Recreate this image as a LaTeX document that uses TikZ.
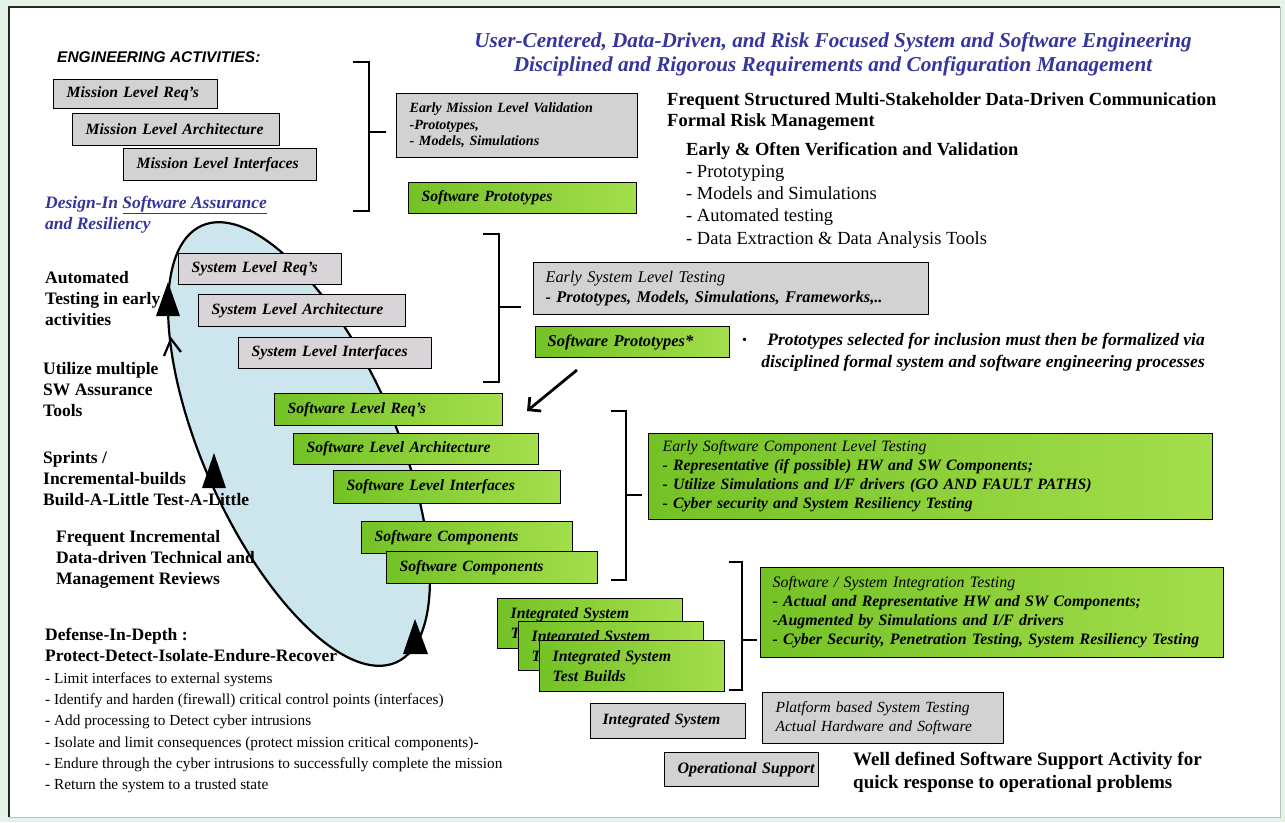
\documentclass[tikz,border=0pt]{standalone}
\usepackage{fontspec}
\setmainfont{Liberation Serif}
\newfontfamily\sansfam{Liberation Sans}
\usetikzlibrary{arrows.meta}
\definecolor{bg}{HTML}{E5F2E8}
\definecolor{tblue}{HTML}{35359B}
\definecolor{ellcol}{HTML}{CDE5EC}
\definecolor{boxgrey}{HTML}{D2D2D2}
\definecolor{sysgrey}{HTML}{D8D4D8}
\definecolor{gL}{HTML}{74C226}
\definecolor{gR}{HTML}{A4DE4C}
\tikzset{
  box/.style={draw=black, line width=1.2pt, anchor=north west, inner xsep=13pt, inner ysep=0pt, align=left,
    font=\bfseries\itshape\fontsize{15.7}{19}\selectfont},
  gbox/.style={box, fill=boxgrey},
  sbox/.style={box, fill=sysgrey},
  grbox/.style={box, left color=gL, right color=gR},
  brk/.style={line width=2.8pt},
  lbl/.style={anchor=north west, inner sep=0pt, align=left, font=\bfseries\fontsize{17.5}{21.2}\selectfont},
  tri/.style={fill=black}
}
\begin{document}
\begin{tikzpicture}[x=1pt,y=-1pt]
\useasboundingbox (0,0) rectangle (1285,822);
% frame
\fill[bg] (0,0) rectangle (1285,822);
\fill[white] (9,7) rectangle (1280,817);
\draw[black!85, line width=2.5pt] (9,817) -- (9,7) -- (1280,7);
\draw[black!25, line width=1pt] (1280,7) -- (1280,817) -- (9,817);

% ellipse fill
\fill[ellcol, rotate around={-66:(299,444)}] (299,444) ellipse [x radius=239, y radius=96];

% titles
\node[font=\bfseries\itshape\fontsize{21.2}{24}\selectfont, text=tblue] (title1) at (833,42) {User-Centered, Data-Driven, and Risk Focused System and Software Engineering};
\node[font=\bfseries\itshape\fontsize{21.2}{24}\selectfont, text=tblue] (title2) at (833,66) {Disciplined and Rigorous Requirements and Configuration Management};

\node[anchor=west, inner sep=0pt, font=\sansfam\bfseries\itshape\fontsize{15.5}{18}\selectfont] (eng) at (57,57) {ENGINEERING ACTIVITIES:};

\node[lbl, text=tblue, font=\bfseries\itshape\fontsize{17.5}{21}\selectfont] (design) at (45,196) {Design-In \underline{Software Assurance}\\and Resiliency};

% left texts
\node[lbl] (auto) at (45,271) {Automated\\Testing in early\\activities};
\node[lbl] (util) at (43,362) {Utilize multiple\\SW Assurance\\Tools};
\node[lbl] (sprint) at (43,451) {Sprints /\\Incremental-builds\\Build-A-Little Test-A-Little};
\node[lbl] (freq) at (56,530) {Frequent Incremental\\Data-driven Technical and\\Management Reviews};
\node[lbl, font=\fontsize{15.3}{21.3}\selectfont] (def) at (45,628) {{\bfseries\fontsize{17.5}{21.3}\selectfont Defense-In-Depth :}\\{\bfseries\fontsize{17.5}{21.3}\selectfont Protect-Detect-Isolate-Endure-Recover}\\- Limit interfaces to external systems\\- Identify  and harden (firewall) critical control points (interfaces)\\- Add processing to Detect cyber  intrusions\\- Isolate and limit consequences (protect mission critical components)-\\- Endure through the cyber intrusions to successfully complete the mission\\- Return the system to a trusted state};

% ellipse outline and arrowheads
\draw[line width=2.2pt, rotate around={-66:(299,444)}] (299,444) ellipse [x radius=239, y radius=96];
\fill[tri] (168,282) -- (156,316) -- (180,316) -- cycle;
\fill[tri] (214,453) -- (202,488) -- (226,488) -- cycle;
\fill[tri] (415,619) -- (403,654) -- (428,654) -- cycle;
\draw[line width=2.2pt] (164,356) -- (171,339) -- (181,352);

% right top texts
\node[lbl, font=\bfseries\fontsize{18.5}{21}\selectfont] (comm) at (667,92) {Frequent Structured Multi-Stakeholder Data-Driven Communication\\Formal Risk Management};
\node[lbl, font=\fontsize{18.5}{22.2}\selectfont] (vv) at (686,142) {\textbf{Early \& Often Verification and Validation}\\- Prototyping\\- Models and Simulations\\- Automated testing\\- Data Extraction \& Data Analysis Tools};

% mission boxes
\node[gbox, text width=138pt, minimum height=29pt] (mreq) at (53,79) {\mbox{Mission Level Req's}};
\node[gbox, text width=181pt, minimum height=32pt] (march) at (72,113) {\mbox{Mission Level Architecture}};
\node[gbox, text width=167pt, minimum height=32pt] (mint) at (123,148) {\mbox{Mission Level Interfaces}};
\node[gbox, text width=215pt, minimum height=64pt, font=\bfseries\itshape\fontsize{14.1}{16.5}\selectfont] (emv) at (396,93) {Early Mission Level Validation\\-Prototypes,\\- Models, Simulations};
\node[grbox, text width=202pt, minimum height=31pt] (swp1) at (408,182) {\mbox{Software Prototypes}};

% system boxes
\node[sbox, text width=137pt, minimum height=31pt] (sreq) at (178,253) {\mbox{System Level Req's}};
\node[sbox, text width=181pt, minimum height=32pt] (sarch) at (198,294) {\mbox{System Level Architecture}};
\node[sbox, text width=167pt, minimum height=31pt] (sint) at (238,337) {\mbox{System Level Interfaces}};

% software boxes
\node[grbox, text width=202pt, minimum height=32pt] (swreq) at (274,393) {\mbox{Software Level Req's}};
\node[grbox, text width=219pt, minimum height=31pt] (swarch) at (293,433) {\mbox{Software Level Architecture}};
\node[grbox, text width=201pt, minimum height=33pt] (swint) at (333,470) {\mbox{Software Level Interfaces}};
\node[grbox, text width=185pt, minimum height=32pt] (swc1) at (361,521) {\mbox{Software Components}};
\node[grbox, text width=185pt, minimum height=32pt] (swc2) at (386,551) {\mbox{Software Components}};

% system testing
\node[gbox, text width=371pt, minimum height=52pt, font=\bfseries\itshape\fontsize{16.3}{20}\selectfont, inner xsep=12pt] (est) at (533,262) {{\mdseries Early System Level Testing}\\- Prototypes, Models, Simulations, Frameworks,..};
\node[grbox, text width=170pt, minimum height=31pt, font=\bfseries\itshape\fontsize{16.5}{18}\selectfont, inner xsep=12pt] (swp2) at (535,326) {\mbox{Software Prototypes*}};
\node[anchor=west, inner sep=0pt, font=\fontsize{14}{18}\selectfont] (bul) at (742,341) {\textbullet};
\node[anchor=north east, inner sep=0pt, align=right, font=\bfseries\itshape\fontsize{17.5}{22}\selectfont] (protnote) at (1205,333) {Prototypes selected for inclusion must then be formalized via\\disciplined formal system and software engineering processes};

% arrow
\coordinate (arS) at (577,370);
\coordinate (arE) at (527,411);
\draw[line width=2.8pt, -{Straight Barb[length=9pt,width=18pt]}] (arS) -- (arE);

% component testing
\node[grbox, text width=536pt, minimum height=86pt, font=\bfseries\itshape\fontsize{15.8}{19}\selectfont, inner xsep=14pt] (escl) at (648,433) {{\mdseries Early Software Component Level Testing}\\- Representative (if possible) HW and SW Components;\\- Utilize Simulations and I/F drivers (GO AND FAULT PATHS)\\- Cyber security and System Resiliency Testing};

% integration
\node[grbox, text width=439pt, minimum height=90pt, font=\bfseries\itshape\fontsize{15.9}{19}\selectfont, inner xsep=12pt] (ssit) at (760,567) {{\mdseries Software / System Integration Testing}\\- Actual and Representative HW and SW Components;\\-Augmented by Simulations and I/F drivers\\- Cyber Security, Penetration Testing, System Resiliency Testing};
\node[grbox, text width=159pt, minimum height=50pt, font=\bfseries\itshape\fontsize{15.8}{20}\selectfont] (int1) at (497,598) {Integrated System\\Test Builds};
\node[grbox, text width=159pt, minimum height=49pt, font=\bfseries\itshape\fontsize{15.8}{20}\selectfont] (int2) at (518,621) {Integrated System\\Test Builds};
\node[grbox, text width=159pt, minimum height=51pt, font=\bfseries\itshape\fontsize{15.8}{20}\selectfont] (int3) at (539,640) {Integrated System\\Test Builds};

\node[gbox, text width=131pt, minimum height=35pt, inner xsep=12pt] (intsys) at (590,703) {\mbox{Integrated System}};
\node[gbox, text width=215pt, minimum height=51pt, font=\itshape\fontsize{15.5}{19}\selectfont] (plat) at (762,692) {Platform based System Testing\\Actual Hardware and Software};
\node[gbox, text width=128pt, minimum height=34pt, font=\bfseries\itshape\fontsize{16}{18}\selectfont] (ops) at (664,752) {\mbox{Operational Support}};
\node[lbl, font=\bfseries\fontsize{19}{23}\selectfont] (wd) at (853,752) {Well defined Software Support Activity for\\quick response to operational problems};

% brackets
\draw[brk] (353,62) -- (369,62) -- (369,211) -- (353,211);
\draw[brk] (369,132) -- (386,132);
\draw[brk] (483,234) -- (499,234) -- (499,382) -- (483,382);
\draw[brk] (499,307) -- (521,307);
\draw[brk] (611,411) -- (626,411) -- (626,580) -- (611,580);
\draw[brk] (626,495) -- (642,495);
\draw[brk] (729,562) -- (742,562) -- (742,690) -- (729,690);
\draw[brk] (742,640) -- (757,640);
\end{tikzpicture}
\end{document}
